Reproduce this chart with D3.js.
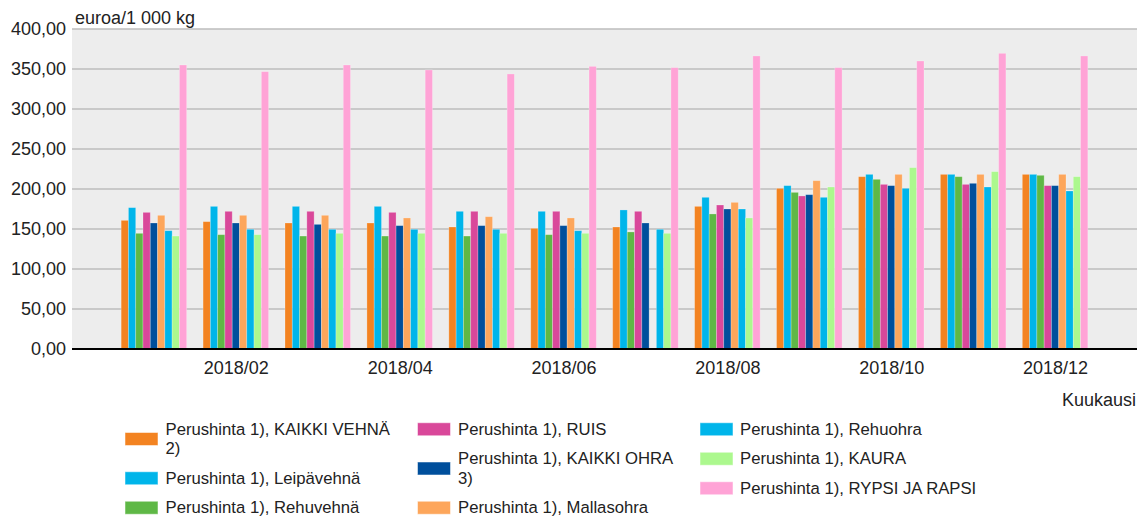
<!DOCTYPE html>
<html>
<head>
<meta charset="utf-8">
<script src="https://cdn.jsdelivr.net/npm/d3@7"></script>
<style>
  html, body { margin: 0; padding: 0; background: #fff; }
  svg { display: block; font-family: "Liberation Sans", Arial, sans-serif; }
</style>
</head>
<body>
<svg id="chart" width="1140" height="519"></svg>
<script>
// ---- data ----
const months = ["2018/01","2018/02","2018/03","2018/04","2018/05","2018/06","2018/07","2018/08","2018/09","2018/10","2018/11","2018/12"];
const tickLabels = ["2018/02","2018/04","2018/06","2018/08","2018/10","2018/12"];
const yTicks = [0, 50, 100, 150, 200, 250, 300, 350, 400];
const seriesNames = [
  "Perushinta 1), KAIKKI VEHNÄ 2)",
  "Perushinta 1), Leipävehnä",
  "Perushinta 1), Rehuvehnä",
  "Perushinta 1), RUIS",
  "Perushinta 1), KAIKKI OHRA 3)",
  "Perushinta 1), Mallasohra",
  "Perushinta 1), Rehuohra",
  "Perushinta 1), KAURA",
  "Perushinta 1), RYPSI JA RAPSI"
];
const seriesColors = ["#F38321","#00B5EA","#5FB846","#D9489A","#004F9C","#FDA65B","#00B5EA","#ACF88E","#FFA3D6"];
const kaikkiVehna = [160.8,159.2,157.5,157.5,152.5,150.8,152.5,178.3,200.8,215.4,218.3,218.3];
const leipavehna  = [176.7,178.3,178.3,178.3,172.1,172.1,173.8,189.6,204.2,218.3,218.3,218.3];
const rehuvehna   = [144.6,142.9,141.2,141.2,141.2,142.9,146.3,168.8,195.8,212.1,215.4,217.1];
const ruis        = [170.8,172.1,172.1,170.8,172.1,172.1,172.1,180.0,191.3,205.8,205.8,204.2];
const kaikkiOhra  = [157.5,157.5,155.8,154.2,154.2,154.2,157.5,175.0,192.9,204.2,207.1,204.2];
const mallasohra  = [167.1,167.1,167.1,163.8,165.4,163.8,null,183.3,210.4,218.3,218.3,218.3];
const rehuohra    = [147.9,149.6,149.6,149.6,149.6,147.9,149.6,175.0,189.6,200.8,202.5,197.5];
const kaura       = [141.2,142.9,144.6,144.6,144.6,144.6,144.6,163.8,202.5,226.7,221.7,215.4];
const rypsi       = [355.0,346.7,355.0,348.8,343.8,353.3,351.7,366.3,351.7,360.0,369.6,366.3];
const seriesValues = [kaikkiVehna, leipavehna, rehuvehna, ruis, kaikkiOhra, mallasohra, rehuohra, kaura, rypsi];

// ---- layout ----
const svg = d3.select("#chart");
const plot = { left: 72, right: 1137, top: 29, bottom: 349 };
const textColor = "#222";

const x = d3.scaleLinear().domain([0, months.length + 1]).range([plot.left, plot.right]);
const y = d3.scaleLinear().domain([0, 400]).range([plot.bottom, plot.top]);
const step = x(1) - x(0);
const inner = d3.scaleBand().domain(d3.range(seriesNames.length))
  .range([-step * 0.4, step * 0.4]).padding(0);

// background
svg.append("rect")
  .attr("x", plot.left).attr("y", plot.top)
  .attr("width", plot.right - plot.left).attr("height", plot.bottom - plot.top)
  .attr("fill", "#EDEDED");

// grid lines
svg.append("g").selectAll("line").data(yTicks.filter(d => d > 0)).join("line")
  .attr("x1", plot.left).attr("x2", plot.right)
  .attr("y1", d => y(d)).attr("y2", d => y(d))
  .attr("stroke", "#BDBDBD").attr("stroke-width", 1.5);

// y axis labels
const yAxis = d3.axisLeft(y).tickValues(yTicks).tickSize(0).tickPadding(6)
  .tickFormat(d => d3.format(".2f")(d).replace(".", ","));
const gy = svg.append("g").attr("transform", `translate(${plot.left},0)`).call(yAxis);
gy.select(".domain").remove();
gy.selectAll("text").attr("font-size", "18px").attr("fill", textColor)
  .attr("font-family", "Liberation Sans, Arial, sans-serif");

// bars
const data = [];
seriesValues.forEach((vals, s) => vals.forEach((v, i) => {
  if (v != null) data.push({ s, i, v });
}));
svg.append("g").selectAll("rect").data(data).join("rect")
  .attr("x", d => x(d.i + 1) + inner(d.s))
  .attr("width", inner.bandwidth())
  .attr("y", d => y(d.v))
  .attr("height", d => y(0) - y(d.v))
  .attr("fill", d => seriesColors[d.s])
  .attr("stroke", "rgba(255,255,255,0.3)")
  .attr("stroke-width", 0.8);

// x axis
const xAxis = d3.axisBottom(x)
  .tickValues(tickLabels.map(t => months.indexOf(t) + 1))
  .tickFormat(d => months[d - 1]).tickSize(0).tickPadding(12);
const gx = svg.append("g").attr("transform", `translate(0,${plot.bottom})`).call(xAxis);
gx.select(".domain").attr("stroke", "#000").attr("stroke-width", 2)
  .attr("d", `M${plot.left},0H${plot.right}`);
gx.selectAll("text").attr("font-size", "18px").attr("fill", textColor)
  .attr("font-family", "Liberation Sans, Arial, sans-serif");

// axis titles
svg.append("text").attr("x", 75).attr("y", 24)
  .attr("font-size", "18px").attr("fill", textColor).text("euroa/1 000 kg");
svg.append("text").attr("x", 1136).attr("y", 406).attr("text-anchor", "end")
  .attr("font-size", "18px").attr("fill", textColor).text("Kuukausi");

// legend
const legendCols = [
  { sx: 125, tx: 165.5, maxW: 232 },
  { sx: 417.5, tx: 458, maxW: 232 },
  { sx: 700, tx: 740, maxW: 380 }
];
const perCol = 3, lineH = 19.5, gap = 10, legendTop = 421.5;
const lg = svg.append("g").attr("font-size", "16.7px").attr("fill", textColor);
legendCols.forEach((col, c) => {
  let top = legendTop;
  for (let k = 0; k < perCol; k++) {
    const s = c * perCol + k;
    if (s >= seriesNames.length) break;
    const t = lg.append("text").attr("x", col.tx);
    // word wrap
    const words = seriesNames[s].split(" ");
    let lines = [], cur = "";
    const probe = lg.append("text").attr("x", -1000).attr("y", -1000);
    words.forEach(w => {
      const test = cur ? cur + " " + w : w;
      probe.text(test);
      if (probe.node().getComputedTextLength() > col.maxW && cur) { lines.push(cur); cur = w; }
      else cur = test;
    });
    lines.push(cur);
    probe.remove();
    lines.forEach((ln, j) => {
      t.append("tspan").attr("x", col.tx).attr("y", top + 13 + j * lineH).text(ln);
    });
    const blockH = lines.length * lineH;
    lg.append("rect").attr("x", col.sx).attr("y", top + blockH / 2 - 2 - 6.5)
      .attr("width", 33).attr("height", 13).attr("fill", seriesColors[s])
      .attr("stroke", "rgba(255,255,255,0.5)").attr("stroke-width", 1);
    top += blockH + gap;
  }
});
</script>
</body>
</html>
